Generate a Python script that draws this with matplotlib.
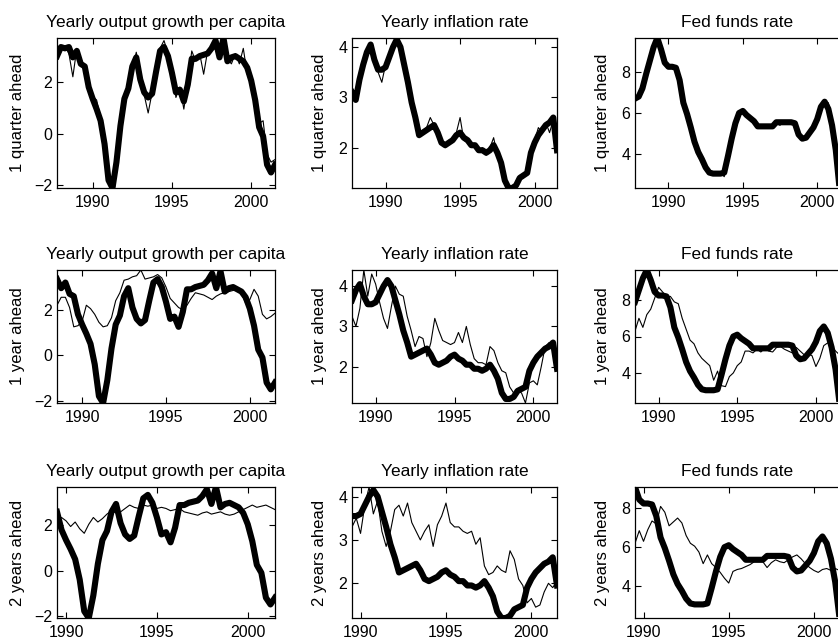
import numpy as np
import matplotlib
matplotlib.use('Agg')
import matplotlib.pyplot as plt

plt.rcParams['font.family'] = ['Liberation Sans', 'DejaVu Sans']

# quarterly data, first quarter is 1987.75, last is 2001.5
firstQuarter = 1987.75
horizonStart = [1987.75, 1988.5, 1989.5]
horizonNames = ['1 quarter ahead', '1 year ahead', '2 years ahead']
seriesTitles = ['Yearly output growth per capita', 'Yearly inflation rate', 'Fed funds rate']
yTicks = [[-2, 0, 2], [2, 3, 4], [4, 6, 8]]
xTicks = [1990, 1995, 2000]

## Actual series (thick lines)
gdpActual = [3.0, 3.35, 3.3, 3.35, 2.95, 3.2, 2.7, 2.6, 1.8, 1.35,
             0.95, 0.5, -0.4, -1.8, -2.1, -1.1, 0.3, 1.35, 1.75, 2.6,
             2.95, 2.1, 1.6, 1.4, 1.55, 2.4, 3.2, 3.35, 3.0, 2.35,
             1.6, 1.7, 1.25, 1.9, 2.9, 2.9, 3.0, 3.05, 3.1, 3.3,
             3.6, 2.95, 3.7, 2.8, 2.95, 3.0, 2.9, 2.8, 2.55, 2.05,
             1.3, 0.25, -0.1, -1.2, -1.5, -1.2]
inflActual = [3.1, 2.95, 3.35, 3.65, 3.9, 4.05, 3.75, 3.55, 3.55, 3.6,
              3.8, 4.0, 4.15, 4.0, 3.65, 3.3, 2.9, 2.6, 2.25, 2.3,
              2.35, 2.4, 2.45, 2.3, 2.1, 2.05, 2.1, 2.15, 2.25, 2.3,
              2.2, 2.15, 2.05, 2.05, 1.95, 1.95, 1.9, 1.95, 2.05, 1.9,
              1.7, 1.35, 1.2, 1.2, 1.25, 1.4, 1.45, 1.5, 1.9, 2.1,
              2.25, 2.35, 2.45, 2.5, 2.6, 1.95]
fedActual = [6.7, 6.8, 7.2, 7.9, 8.55, 9.2, 9.65, 9.1, 8.45, 8.25,
             8.25, 8.2, 7.6, 6.5, 5.95, 5.3, 4.6, 4.1, 3.75, 3.35,
             3.1, 3.05, 3.05, 3.05, 3.1, 3.9, 4.75, 5.5, 6.0, 6.1,
             5.9, 5.75, 5.6, 5.35, 5.35, 5.35, 5.35, 5.35, 5.55, 5.55,
             5.55, 5.55, 5.55, 5.5, 4.95, 4.75, 4.8, 5.05, 5.3, 5.7,
             6.3, 6.55, 6.2, 5.4, 4.2, 2.35]

## Forecasts (thin lines), starting at horizonStart of each row
gdp1q = [3.1, 3.3, 3.4, 3.1, 2.2, 3.3, 2.9, 2.5, 1.9, 1.45,
         1.3, 0.6, -0.2, -1.6, -1.9, -1.2, 0.1, 1.2, 1.9, 2.5,
         3.15, 2.3, 1.5, 0.8, 1.6, 2.2, 3.3, 3.6, 3.1, 2.5,
         1.4, 1.8, 0.95, 2.0, 3.2, 2.8, 3.1, 2.3, 3.2, 3.4,
         3.5, 3.1, 3.5, 2.9, 2.7, 3.1, 2.7, 3.3, 2.3, 2.3,
         1.6, 0.4, 0.5, -0.8, -1.1, -1.0]
gdp1y = [2.2, 2.55, 2.55, 2.1, 1.25, 1.3, 1.5, 2.2, 2.05, 1.8,
         1.45, 1.25, 1.3, 1.65, 2.4, 2.75, 3.3, 3.35, 3.45, 3.5,
         3.75, 3.35, 3.4, 3.45, 3.55, 3.4, 3.0, 2.5, 2.3, 2.1,
         2.0, 2.2, 2.5, 2.75, 2.7, 2.65, 2.55, 2.45, 2.6, 2.7,
         2.75, 2.8, 2.85, 2.9, 2.7, 2.3, 2.45, 2.9, 2.6, 1.8,
         1.6, 1.7, 1.85]
gdp2y = [2.2, 2.35, 2.2, 1.95, 2.15, 1.85, 1.65, 2.05, 2.35, 2.15,
         2.3, 2.5, 2.65, 2.55, 2.6, 2.75, 2.9, 2.8, 2.75, 2.9,
         2.85, 2.9, 2.75, 2.8, 2.75, 2.65, 2.7, 2.75, 2.6, 2.55,
         2.5, 2.45, 2.55, 2.6, 2.5, 2.55, 2.6, 2.5, 2.45, 2.5,
         2.6, 2.7, 2.8, 2.9, 2.8, 2.85, 2.9, 2.8, 2.7]
infl1q = [3.2, 2.95, 3.4, 3.6, 3.95, 4.0, 3.7, 3.5, 3.3, 3.65,
          3.85, 3.95, 4.18, 3.95, 3.6, 3.25, 2.95, 2.55, 2.2, 2.35,
          2.4, 2.6, 2.45, 2.25, 2.15, 2.0, 2.15, 2.1, 2.3, 2.6,
          2.15, 2.1, 2.1, 2.0, 1.95, 2.0, 1.85, 2.0, 2.2, 1.85,
          1.75, 1.3, 1.25, 1.2, 1.3, 1.45, 1.4, 1.55, 1.85, 2.15,
          2.4, 2.3, 2.5, 2.3, 2.55, 2.0]
infl1y = [3.25, 3.0, 3.45, 4.4, 3.75, 4.3, 4.05, 3.6, 3.2, 2.95,
          3.5, 4.0, 3.8, 3.75, 3.25, 2.9, 2.5, 2.75, 2.7, 2.25,
          2.6, 3.2, 2.9, 2.65, 2.6, 2.55, 2.6, 2.85, 2.6, 3.0,
          2.55, 2.2, 2.1, 2.1, 2.05, 2.5, 2.4, 2.1, 1.9, 1.85,
          1.5, 1.35, 1.4, 1.35, 1.1, 1.6, 1.65, 1.55, 2.0, 2.5,
          2.6, 2.5, 2.35]
infl2y = [3.3, 3.5, 3.15, 3.8, 4.22, 3.6, 3.9, 3.2, 2.85, 3.2,
          3.7, 3.8, 3.55, 3.85, 3.4, 3.2, 3.0, 3.2, 3.35, 2.85,
          3.35, 3.55, 3.85, 3.4, 3.3, 3.3, 3.2, 3.15, 3.2, 2.9,
          3.05, 2.4, 2.2, 2.25, 2.4, 2.3, 2.25, 2.75, 2.55, 2.1,
          1.95, 1.55, 1.65, 1.45, 1.5, 1.8, 2.0, 1.9, 2.05]
fed1q = [6.6, 6.9, 7.1, 7.8, 8.6, 9.1, 9.5, 9.1, 8.4, 8.2,
         8.3, 8.1, 7.7, 6.6, 5.8, 5.4, 4.8, 3.9, 3.9, 3.3,
         3.1, 3.1, 3.0, 3.1, 2.9, 3.7, 4.7, 5.4, 5.9, 6.0,
         5.8, 5.8, 5.5, 5.35, 5.25, 5.3, 5.35, 5.3, 5.5, 5.4,
         5.6, 5.5, 5.6, 5.3, 4.9, 4.7, 4.7, 5.0, 5.2, 5.6,
         6.2, 6.4, 6.5, 5.6, 4.1, 2.6]
fed1y = [6.3, 7.0, 6.5, 7.2, 7.5, 8.1, 8.7, 8.45, 8.2, 8.2,
         7.9, 7.8, 7.0, 6.4, 5.8, 5.6, 5.1, 4.8, 4.6, 4.4,
         3.6, 4.1, 3.3, 3.25, 3.8, 4.0, 4.4, 4.6, 5.2, 5.2,
         5.1, 5.3, 5.15, 5.35, 5.2, 5.15, 5.4, 5.45, 5.3, 5.2,
         5.1, 5.4, 5.2, 5.0, 5.05, 4.95, 4.35, 4.8, 5.5, 5.65,
         5.5, 5.2, 5.0]
fed2y = [6.2, 6.85, 6.3, 6.9, 7.35, 7.2, 8.1, 7.8, 7.1, 7.3,
         7.5, 7.25, 6.6, 6.2, 6.05, 5.75, 5.15, 5.6, 5.15, 4.95,
         4.7, 4.4, 4.15, 4.75, 4.85, 4.9, 5.0, 5.1, 5.25, 5.25,
         5.25, 4.95, 5.2, 5.35, 5.25, 5.2, 5.35, 5.5, 5.6, 5.4,
         5.15, 4.95, 4.8, 4.7, 4.85, 4.9, 4.8, 4.9, 4.8]

actuals = [gdpActual, inflActual, fedActual]
forecasts = [[gdp1q, gdp1y, gdp2y],
             [infl1q, infl1y, infl2y],
             [fed1q, fed1y, fed2y]]

# panel layout in pixels
W, H = 838, 641
colLeft = [57, 352, 635]
colRight = [275, 557, 839.5]
rowTop = [38, 270, 487]
rowBottom = [188, 403, 618]
yLabelRight = [25, 327, 610]


def pixelBox(left, top, right, bottom):
    return [left/W, 1-bottom/H, (right-left)/W, (bottom-top)/H]


def quarters(start, n):
    return start + 0.25*np.arange(n)


fig = plt.figure(figsize=(W/100, H/100), dpi=100)

for r in range(3):
    for c in range(3):
        ax = fig.add_axes(pixelBox(colLeft[c], rowTop[r], colRight[c], rowBottom[r]))

        # actual data, cut to the forecast sample of this row
        actual = np.array(actuals[c])
        tA = quarters(firstQuarter, len(actual))
        keep = tA >= horizonStart[r] - 1e-6
        ax.plot(tA[keep], actual[keep], color='k', lw=4.4, solid_joinstyle='round')

        # forecast
        fc = np.array(forecasts[c][r])
        ax.plot(quarters(horizonStart[r], len(fc)), fc, color='k', lw=0.8)

        # tight axes
        ax.set_xmargin(0)
        ax.set_ymargin(0)
        ax.autoscale_view()

        ax.set_xticks(xTicks)
        ax.set_yticks(yTicks[c])
        # right column runs off the page, so no ticks on its right side
        ax.tick_params(direction='in', top=True, right=(c < 2), length=4, width=0.8,
                       labelsize=11.5, colors='k')
        ax.tick_params(axis='x', pad=5)
        for s in ax.spines.values():
            s.set_linewidth(0.9)

        ax.set_title(seriesTitles[c], fontsize=12.5, pad=8)
        ax.set_ylabel(horizonNames[r], fontsize=12)
        ax.yaxis.set_label_coords((yLabelRight[c]-colLeft[c])/(colRight[c]-colLeft[c]), 0.5)

plt.savefig('out.png', dpi=100)
